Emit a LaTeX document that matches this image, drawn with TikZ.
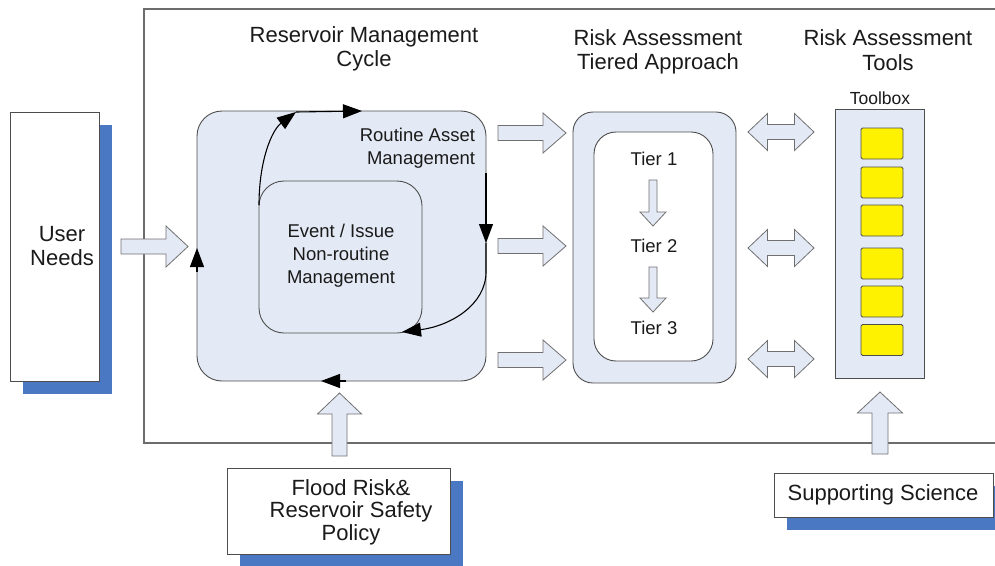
\documentclass[tikz,border=0pt]{standalone}
\usepackage{fontspec}
\setmainfont{Liberation Sans}
\usetikzlibrary{arrows.meta,shadows}

\definecolor{panel}{HTML}{E4EAF5}
\definecolor{edge}{HTML}{4D4D4D}
\definecolor{shade}{HTML}{4A78C2}
\definecolor{arrowedge}{HTML}{707070}
\definecolor{ink}{HTML}{1A1A1A}

% block arrows: right, double, up, down
\newcommand\blockR[6]{% x1 x2 y shaft-half head-half head-length
  \draw[blockarrow] (#1,#3-#4) -- (#2-#6,#3-#4) -- (#2-#6,#3-#5) -- (#2,#3)
    -- (#2-#6,#3+#5) -- (#2-#6,#3+#4) -- (#1,#3+#4) -- cycle;}
\newcommand\blockLR[6]{%
  \draw[blockarrow] (#1,#3) -- (#1+#6,#3-#5) -- (#1+#6,#3-#4) -- (#2-#6,#3-#4)
    -- (#2-#6,#3-#5) -- (#2,#3) -- (#2-#6,#3+#5) -- (#2-#6,#3+#4)
    -- (#1+#6,#3+#4) -- (#1+#6,#3+#5) -- cycle;}
\newcommand\blockU[6]{% x y-bottom y-tip shaft-half head-half head-length
  \draw[blockarrow] (#1-#4,#2) -- (#1-#4,#3+#6) -- (#1-#5,#3+#6) -- (#1,#3)
    -- (#1+#5,#3+#6) -- (#1+#4,#3+#6) -- (#1+#4,#2) -- cycle;}
\newcommand\blockD[6]{% x y-top y-tip shaft-half head-half head-length
  \draw[blockarrow] (#1-#4,#2) -- (#1-#4,#3-#6) -- (#1-#5,#3-#6) -- (#1,#3)
    -- (#1+#5,#3-#6) -- (#1+#4,#3-#6) -- (#1+#4,#2) -- cycle;}

\begin{document}
\begin{tikzpicture}[x=1pt,y=-1pt,
  every node/.style={inner sep=0pt, outer sep=0pt, text=ink},
  head/.style={align=center, font=\fontsize{22}{24.5}\selectfont},
  small/.style={align=center, font=\fontsize{18.5}{23}\selectfont},
  whitebox/.style={draw=edge, line width=0.9pt, fill=white, anchor=north west,
    drop shadow={shadow xshift=13pt, shadow yshift=-13pt, fill=shade, opacity=1}},
  panelbox/.style={draw=edge, line width=0.9pt, fill=panel, anchor=north west},
  tool/.style={draw=edge, line width=0.9pt, fill=yellow, rounded corners=1.5pt,
    minimum width=42pt, minimum height=31pt},
  blockarrow/.style={draw=arrowedge, line width=0.8pt, fill=panel, line join=miter},
  cyc/.style={draw=black, line width=1.1pt},
  tip/.style={-{Triangle[length=19pt,width=14pt]}},
]
\useasboundingbox (0,0) rectangle (995,565);

% enclosing frame, open to the right
\draw[gray!85!black, line width=1.2pt] (1000,9) -- (144,9) -- (144,443) -- (1000,443);

% headings
\node[head] (h1) at (364,49) {Reservoir Management\\Cycle};
\node[head] (h2) at (658,52) {Risk Assessment\\Tiered Approach};
\node[head] (h3) at (888,50) {Risk Assessment\\Tools};

% user needs
\node[whitebox, minimum width=89pt, minimum height=269pt] (un) at (10,112) {};
\node[head] (untxt) at (62,246) {User\\Needs};
\blockR{121}{188}{246.5}{7.5}{20.5}{22}

% reservoir management cycle
\node[panelbox, rounded corners=25pt, minimum width=289pt, minimum height=270pt] (rmc) at (197,111) {};
\node[panelbox, rounded corners=25pt, minimum width=163pt, minimum height=152pt] (evt) at (259,181) {};
\node[small] (evttxt) at (341,256) {Event / Issue\\Non-routine\\Management};
\node[small, align=right, anchor=east] (rtxt) at (475,148) {Routine Asset\\Management};

\coordinate (c1) at (259,205);
\coordinate (c2) at (296,112);
\coordinate (c3) at (362,111);
\coordinate (c4) at (486,173);
\coordinate (c5) at (486,243);
\coordinate (c6) at (486,272);
\coordinate (c7) at (402,332);
\coordinate (c8) at (346,381);
\coordinate (c9) at (321,381);
\coordinate (c10) at (197,272);
\coordinate (c11) at (197,248);
\draw[cyc, tip] (c1) .. controls (259,160) and (272,130) .. (c2);
\draw[cyc, tip] (c2) -- (c3);
\draw[cyc, tip] (c4) -- (c5);
\draw[cyc, tip] (c5) -- (c6) .. controls (486,305) and (450,326) .. (c7);
\draw[cyc, tip] (c8) -- (c9);
\draw[cyc, tip] (c10) -- (c11);

% arrows into the tiered approach
\blockR{498}{566}{133}{7.5}{20}{23}
\blockR{498}{566}{246}{7.5}{20}{23}
\blockR{498}{566}{360}{7.5}{20}{23}

% tiered approach
\node[panelbox, rounded corners=20pt, minimum width=163pt, minimum height=271pt] (rata) at (573,112) {};
\node[draw=edge, line width=0.9pt, fill=white, anchor=north west, rounded corners=22pt,
  minimum width=119pt, minimum height=229pt] (tiers) at (594,132) {};
\node[small] (t1) at (654,159) {Tier 1};
\node[small] (t2) at (654,246) {Tier 2};
\node[small] (t3) at (654,328) {Tier 3};
\blockD{653}{180}{226}{4}{13}{14}
\blockD{653}{267}{312}{4}{13}{14}

% links to the toolbox
\blockLR{748}{814}{132}{7.5}{18.5}{19.5}
\blockLR{748}{814}{248}{7.5}{18.5}{19.5}
\blockLR{748}{814}{359}{7.5}{18.5}{19.5}

% toolbox
\node[font=\fontsize{17.5}{20}\selectfont] (tbtxt) at (880,98) {Toolbox};
\node[panelbox, minimum width=89pt, minimum height=269pt] (tb) at (835,109) {};
\node[tool] (k1) at (882,143.5) {};
\node[tool] (k2) at (882,182.5) {};
\node[tool] (k3) at (882,220.5) {};
\node[tool] (k4) at (882,263.5) {};
\node[tool] (k5) at (882,301.5) {};
\node[tool] (k6) at (882,340) {};

% policy input
\node[whitebox, minimum width=223pt, minimum height=86pt] (pol) at (227,468) {};
\node[head, font=\fontsize{22}{22.5}\selectfont] (poltxt) at (351,512) {Flood Risk\&\\Reservoir Safety\\Policy};
\blockU{339.5}{456}{393}{7.5}{22}{21}

% science input
\node[whitebox, minimum width=219pt, minimum height=44pt] (sci) at (774,473) {};
\node[head] (scitxt) at (883,495) {Supporting Science};
\blockU{880}{454}{392}{8}{22.5}{21}

\end{tikzpicture}
\end{document}
